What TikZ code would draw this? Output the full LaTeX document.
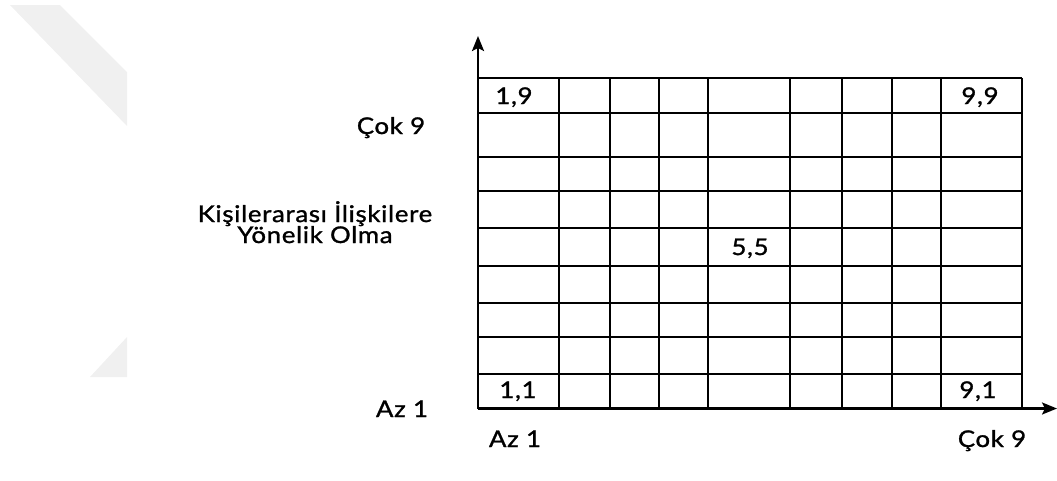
\documentclass[tikz,border=0pt]{standalone}
\usepackage{fontspec}
\setmainfont{Lato}[FakeStretch=1.12,LetterSpace=3,FakeBold=1.2]
\usetikzlibrary{arrows.meta}
\begin{document}
\begin{tikzpicture}[x=1pt,y=-1pt,
  gridline/.style={line width=2.4pt, black},
  axisline/.style={line width=2.4pt, -{Stealth[length=15pt,width=12pt,inset=3pt]}},
  lbl/.style={font=\fontsize{23}{26}\selectfont, inner sep=0pt, anchor=base},
  wm/.style={fill=black!6, draw=none}]
\useasboundingbox (0,0) rectangle (1057,480);
% faint watermark shapes
\fill[wm] (10,5) -- (60,5) -- (127,72) -- (127,126) -- cycle;
\fill[wm] (90,377) -- (127,337) -- (127,377) -- cycle;
% grid
\foreach \x in {478,559,610,659,708,790,842,892,941,1022}
  \draw[gridline] (\x,78) -- (\x,408);
\foreach \y in {78,113,157,191,228,266,303,337,374,408}
  \draw[gridline] (478,\y) -- (1022,\y);
% axes
\coordinate (O) at (478,408.5);
\coordinate (ytip) at (478,36);
\coordinate (xtip) at (1057,408.5);
\draw[axisline] (O) -- (ytip);
\draw[axisline] (O) -- (xtip);
% cell labels
\node[lbl] (c19) at (514,104) {1,9};
\node[lbl] (c99) at (980,104) {9,9};
\node[lbl] (c55) at (750,255) {5,5};
\node[lbl] (c11) at (518,398) {1,1};
\node[lbl] (c91) at (978,398) {9,1};
% axis labels
\node[lbl] (ycok) at (391,134) {Çok 9};
\node[lbl] (ytitleA) at (315,222) {Kişilerarası İlişkilere};
\node[lbl] (ytitleB) at (315,243) {Yönelik Olma};
\node[lbl] (yaz) at (402,417) {Az 1};
\node[lbl] (xaz) at (515,447) {Az 1};
\node[lbl] (xcok) at (992,447) {Çok 9};
\end{tikzpicture}
\end{document}
